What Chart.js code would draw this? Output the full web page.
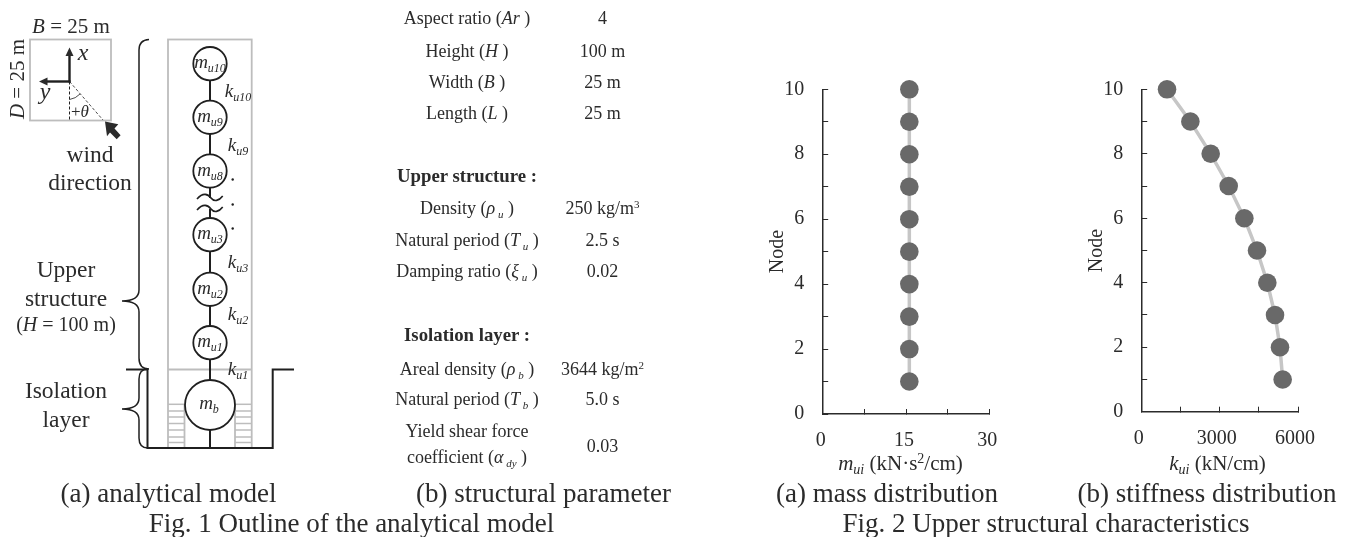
<!DOCTYPE html>
<html>
<head>
<meta charset="utf-8">
<script src="https://cdn.jsdelivr.net/npm/chart.js@4"></script>
<style>
  html, body { margin: 0; padding: 0; background: #fff; overflow: hidden; }
  body { width: 1354px; height: 537px; position: relative; }
  canvas { position: absolute; }
  #overlay { position: absolute; left: 0; top: 0; pointer-events: none; }
  #overlay text { font-family: "Liberation Serif", serif; fill: #2b2b2b; }
</style>
</head>
<body>
<canvas id="massChart" width="270" height="400" style="left:760px;top:60px"></canvas>
<canvas id="stiffChart" width="269" height="400" style="left:1079px;top:60px"></canvas>
<svg id="overlay" width="1354" height="537" xmlns="http://www.w3.org/2000/svg"></svg>

<script>
// Valores (Fig. 2)
const nodes = [1, 2, 3, 4, 5, 6, 7, 8, 9, 10];
const massValues = [15.6, 15.6, 15.6, 15.6, 15.6, 15.6, 15.6, 15.6, 15.6, 15.6];
const stiffnessValues = [5411, 5309, 5118, 4823, 4427, 3940, 3339, 2648, 1868, 972];
const nodeLabels = [0, 2, 4, 6, 8, 10];
const massLabels = [0, 15, 30];
const stiffnessLabels = [0, 3000, 6000];

const ink = '#2b2b2b';
const serif = 'Liberation Serif';

function makeChart(id, values, xMax, xStep, xLabels, area, labelOffset) {
  new Chart(document.getElementById(id), {
    type: 'scatter',
    data: {
      datasets: [{
        data: nodes.map((n, i) => ({ x: values[i], y: n })),
        showLine: true,
        clip: false,
        borderColor: '#c6c6c6',
        borderWidth: 3.5,
        pointRadius: 9.3,
        pointBackgroundColor: '#696969',
        pointBorderWidth: 0
      }]
    },
    options: {
      responsive: false,
      animation: false,
      devicePixelRatio: 1,
      layout: { padding: { top: area.top, right: area.right, bottom: 0, left: 0 } },
      plugins: { legend: { display: false }, tooltip: { enabled: false } },
      scales: {
        x: {
          type: 'linear',
          min: 0,
          max: xMax,
          afterFit: (s) => { s.height = area.bottom; s.paddingLeft = 0; s.paddingRight = 0; },
          grid: { drawOnChartArea: false, tickLength: -5, color: ink, tickWidth: 1 },
          border: { color: ink, width: 1.5 },
          ticks: {
            stepSize: xStep,
            autoSkip: false,
            maxRotation: 0,
            padding: 20,
            labelOffset: labelOffset,
            color: ink,
            font: { family: serif, size: 20 },
            callback: (v) => xLabels.includes(v) ? String(v) : ''
          }
        },
        y: {
          type: 'linear',
          min: 0,
          max: 10,
          afterFit: (s) => { s.width = area.left; s.paddingTop = 0; s.paddingBottom = 0; },
          title: { display: true, text: 'Node', color: ink, font: { family: serif, size: 20 }, padding: { top: 6, bottom: 0 } },
          grid: { drawOnChartArea: false, tickLength: -5.5, color: ink, tickWidth: 1 },
          border: { color: ink, width: 1.5 },
          ticks: {
            stepSize: 1,
            autoSkip: false,
            padding: 24,
            color: ink,
            font: { family: serif, size: 20 },
            callback: (v) => nodeLabels.includes(v) ? String(v) : ''
          }
        }
      }
    }
  });
}

makeChart('massChart', massValues, 30, 7.5, massLabels, { top: 29.3, right: 40.7, bottom: 46, left: 62.7 }, -2);
makeChart('stiffChart', stiffnessValues, 6000, 1500, stiffnessLabels, { top: 29.3, right: 50, bottom: 48.3, left: 62.7 }, -3);

// Diagrama e textos da figura
let svg = '';
function t(x, y, content, size, extra) {
  svg += `<text x="${x}" y="${y}" font-size="${size}" text-anchor="middle" ${extra || ''}>${content}</text>`;
}
function it(s) { return `<tspan font-style="italic">${s}</tspan>`; }
// letra em itálico com subscrito
function sub(base, s, size) {
  return `${it(base)}<tspan font-style="italic" font-size="${size}" dy="4">${s}</tspan><tspan dy="-4">\u200b</tspan>`;
}
function line(x1, y1, x2, y2, color, w, dash) {
  svg += `<line x1="${x1}" y1="${y1}" x2="${x2}" y2="${y2}" stroke="${color}" stroke-width="${w}" ${dash ? `stroke-dasharray="${dash}"` : ''}/>`;
}
function path(d, color, w) {
  svg += `<path d="${d}" fill="none" stroke="${color}" stroke-width="${w}"/>`;
}
function poly(points) {
  svg += `<polygon points="${points}" fill="${ink}"/>`;
}

const gray = '#bdbdbd';
const dark = '#1f1f1f';

// planta com vento
svg += `<rect x="30" y="39.5" width="81" height="81" fill="none" stroke="${gray}" stroke-width="1.8"/>`;
line(69.5, 81.5, 69.5, 120, dark, 1, '3,2');
line(69.5, 81.5, 103, 120, dark, 0.8, '3,2');
path('M69.5 99.5 A18 18 0 0 0 80 94', dark, 0.8);
line(69.5, 82.5, 69.5, 54, dark, 2.4);
line(70.5, 81.5, 46, 81.5, dark, 2.4);
poly('69.5,47.5 65.5,56 73.5,56');
poly('39,81.5 47.5,77.5 47.5,85.5');
poly('105,121.5 118.3,124.3 114.5,128.5 120.6,135.2 116.7,139.3 110,132.5 107,136.3');
t(71, 33, `${it('B')} = 25 m`, 21);
svg += `<text transform="translate(24 79) rotate(-90)" font-size="21" text-anchor="middle">${it('D')} = 25 m</text>`;
t(83, 60, it('x'), 24);
t(45, 99, it('y'), 24);
t(80, 117, `+${it('θ')}`, 17);
t(90, 162, 'wind', 23.5);
t(90, 190, 'direction', 23.5);

// chaves
path('M149 39.5 Q139 40 139 50 L139 290 Q139 301 122 301 Q139 301 139 312 L139 358 Q139 369 149 369', dark, 1.5);
path('M148 369 Q139 369 139 379 L139 398 Q139 409 122 409 Q139 409 139 420 L139 438 Q139 448 148 448', dark, 1.5);
t(66, 277, 'Upper', 23.5);
t(66, 306, 'structure', 23.5);
t(66, 331, `(${it('H')} = 100 m)`, 20);
t(66, 398, 'Isolation', 23.5);
t(66, 427, 'layer', 23.5);

// edifício e camada de isolamento
svg += `<rect x="168" y="39.5" width="83.7" height="408.5" fill="none" stroke="${gray}" stroke-width="1.8"/>`;
line(168, 369.5, 252, 369.5, gray, 1.8);
line(184.5, 404, 184.5, 448, gray, 1.8);
line(235, 404, 235, 448, gray, 1.8);
[404.3, 411, 417, 423.5, 430, 437, 442.5].forEach((y) => {
  line(168, y, 184.5, y, gray, 1.5);
  line(235, y, 252, y, gray, 1.5);
});

// fundação
path('M126 369.5 H147.5 V448 H272.7 V369.5 H294', dark, 2);

// massas e molas
line(210, 64, 210, 188, dark, 2);
line(210, 188, 210, 198, dark, 2);
line(210, 209, 210, 218, dark, 2);
line(210, 235, 210, 448, dark, 2);
path('M197 199 C203 192 208 194 211 198 C214 202 219 201 222.7 196', dark, 1.6);
path('M197 210 C203 203 208 205 211 209 C214 213 219 212 222.7 207', dark, 1.6);

const massCentres = [63.7, 117.3, 171, 234.7, 289.3, 342.7];
const massNames = ['u10', 'u9', 'u8', 'u3', 'u2', 'u1'];
massCentres.forEach((cy, i) => {
  svg += `<circle cx="210" cy="${cy}" r="16.7" fill="#fff" stroke="${dark}" stroke-width="1.8"/>`;
  t(210, cy + 4.5, sub('m', massNames[i], 12), 19);
});
svg += `<circle cx="210" cy="405" r="25" fill="#fff" stroke="${dark}" stroke-width="1.8"/>`;
t(209, 409, sub('m', 'b', 12), 19);

t(238, 97, sub('k', 'u10', 12), 19);
t(238, 151, sub('k', 'u9', 12), 19);
t(238, 268, sub('k', 'u3', 12), 19);
t(238, 320, sub('k', 'u2', 12), 19);
t(238, 375, sub('k', 'u1', 12), 19);
[179.5, 204.5, 228.5].forEach((y) => {
  svg += `<circle cx="232.7" cy="${y}" r="1.2" fill="${dark}"/>`;
});

// tabela de parâmetros
const labelX = 467, valueX = 602.5, tableSize = 18, boldSize = 18.8;
t(labelX, 24, `Aspect ratio (${it('Ar')} )`, tableSize);
t(valueX, 24, '4', tableSize);
t(labelX, 56.7, `Height (${it('H')} )`, tableSize);
t(valueX, 56.7, '100 m', tableSize);
t(labelX, 88, `Width (${it('B')} )`, tableSize);
t(valueX, 88, '25 m', tableSize);
t(labelX, 119, `Length (${it('L')} )`, tableSize);
t(valueX, 119, '25 m', tableSize);
t(labelX, 182, 'Upper structure :', boldSize, 'font-weight="bold"');
t(labelX, 214, `Density (${sub('ρ', ' u', 11)} )`, tableSize);
t(valueX, 214, `250 kg/m<tspan font-size="11" dy="-6">3</tspan>`, tableSize);
t(labelX, 245.7, `Natural period (${sub('T', ' u', 11)} )`, tableSize);
t(valueX, 245.7, '2.5 s', tableSize);
t(labelX, 276.7, `Damping ratio (${sub('ξ', ' u', 11)} )`, tableSize);
t(valueX, 276.7, '0.02', tableSize);
t(labelX, 341, 'Isolation layer :', boldSize, 'font-weight="bold"');
t(labelX, 375, `Areal density (${sub('ρ', ' b', 11)} )`, tableSize);
t(valueX, 375, `3644 kg/m<tspan font-size="11" dy="-6">2</tspan>`, tableSize);
t(labelX, 405, `Natural period (${sub('T', ' b', 11)} )`, tableSize);
t(valueX, 405, '5.0 s', tableSize);
t(labelX, 436.7, 'Yield shear force', tableSize);
t(labelX, 463, `coefficient (${sub('α', ' dy', 11)} )`, tableSize);
t(valueX, 451.7, '0.03', tableSize);

// títulos dos eixos e legendas
t(900.5, 470, `${sub('m', 'ui', 14)} (kN·s<tspan font-size="14" dy="-7">2</tspan><tspan dy="7">/cm)</tspan>`, 21);
t(1217.5, 470, `${sub('k', 'ui', 14)} (kN/cm)`, 21);
const capSize = 27;
t(168.5, 502, '(a) analytical model', capSize);
t(543.5, 502, '(b) structural parameter', capSize);
t(351.5, 532, 'Fig. 1 Outline of the analytical model', capSize);
t(887, 502, '(a) mass distribution', capSize);
t(1207, 502, '(b) stiffness distribution', capSize);
t(1046, 532, 'Fig. 2 Upper structural characteristics', capSize);

document.getElementById('overlay').innerHTML = svg;
</script>
</body>
</html>
